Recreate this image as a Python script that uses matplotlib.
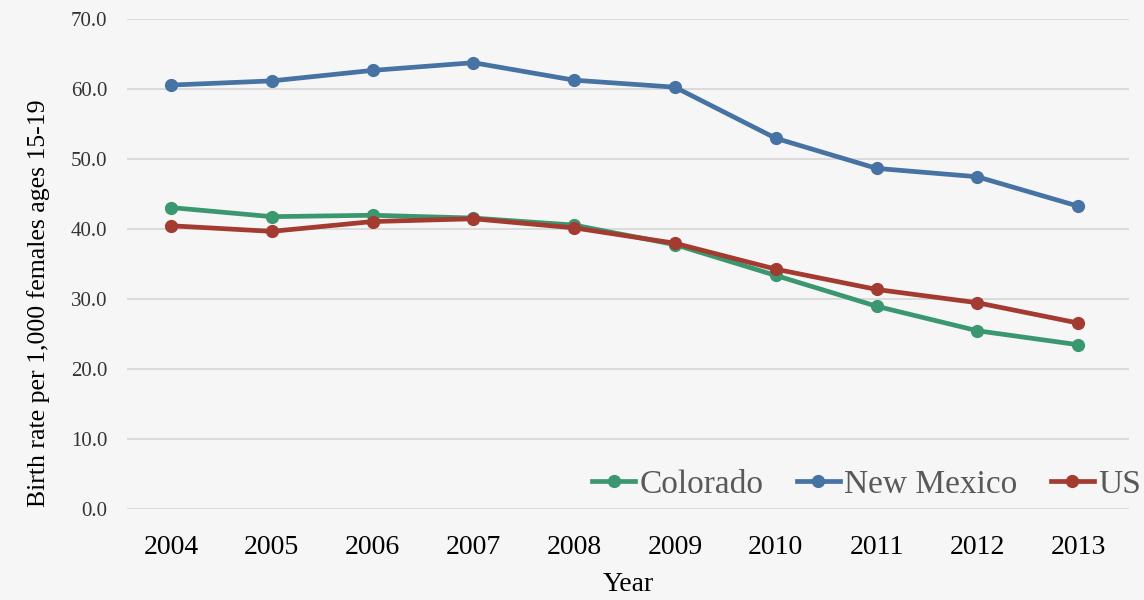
import numpy as np
import matplotlib
matplotlib.use('Agg')
import matplotlib.pyplot as plt

# data
years = ['2004', '2005', '2006', '2007', '2008', '2009', '2010', '2011', '2012', '2013']
colorado = [43.0, 41.7, 41.9, 41.5, 40.5, 37.7, 33.3, 28.9, 25.4, 23.4]
new_mexico = [60.5, 61.1, 62.6, 63.7, 61.2, 60.2, 52.9, 48.6, 47.4, 43.2]
us = [40.4, 39.6, 41.0, 41.4, 40.1, 37.9, 34.2, 31.3, 29.4, 26.5]

series = [('Colorado', colorado, '#3b9770'),
          ('New Mexico', new_mexico, '#4673a3'),
          ('US', us, '#a33b31')]

plt.rcParams['font.family'] = ['Liberation Serif', 'DejaVu Serif']

fig = plt.figure(figsize=(11.44, 6), dpi=100, facecolor='#f6f6f6')
ax = fig.add_axes([0.111, 0.1525, 0.876, 0.8165])
ax.set_facecolor('#f6f6f6')

x = np.arange(len(years))
for name, vals, col in series:
    ax.plot(x, vals, '-o', color=col, lw=3.4, ms=8.5, label=name, zorder=3)

ax.set_ylim(0, 70)
ax.set_xlim(-0.437, 9.506)
ax.set_yticks(np.arange(0, 71, 10))
ax.set_yticklabels(['%.1f' % v for v in np.arange(0, 71, 10)], fontsize=15, color='#333333')
ax.set_xticks(x)
ax.set_xticklabels(years, fontsize=20, color='black')
ax.tick_params(axis='both', length=0)
ax.tick_params(axis='x', pad=19)
ax.tick_params(axis='y', pad=14)
ax.grid(axis='y', color='#d9d9d9', lw=1.3)
ax.set_axisbelow(True)
for s in ax.spines.values():
    s.set_visible(False)

ax.set_ylabel('Birth rate per 1,000 females ages 15-19', fontsize=18.5, color='black')
ax.yaxis.set_label_coords(-0.077, 0.419)
ax.set_xlabel('Year', fontsize=20, color='black', labelpad=9)

leg = ax.legend(loc='lower right', bbox_to_anchor=(1.025, -0.009), ncol=3, frameon=False,
                fontsize=24, handlelength=1.3, handletextpad=0.12, columnspacing=1.0,
                borderaxespad=0)
for t in leg.get_texts():
    t.set_color('#595959')

fig.savefig('out.png', dpi=100, facecolor=fig.get_facecolor())
